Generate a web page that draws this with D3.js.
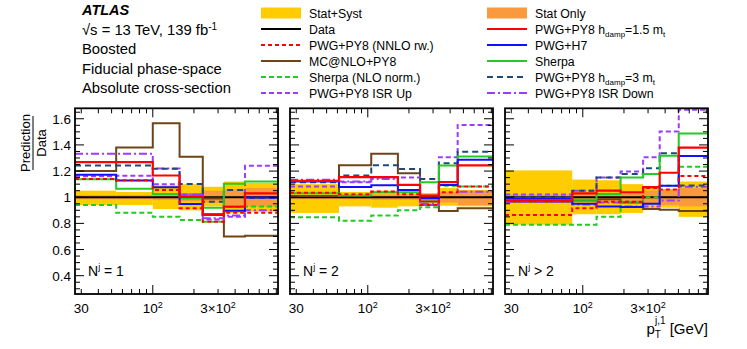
<!DOCTYPE html>
<html>
<head>
<meta charset="utf-8">
<script src="https://cdn.jsdelivr.net/npm/d3@7"></script>
<style>
body { margin: 0; background: #fff; }
text { font-family: "Liberation Sans", Arial, Helvetica, sans-serif; fill: #000; }
</style>
</head>
<body>
<div id="chart"></div>
<script>

// bin edges in GeV, one row per jet multiplicity panel
var edges = [
  [27, 54, 100, 157, 232, 331, 472, 823],
  [27, 61.6, 106, 166, 241, 331, 454, 823],
  [27, 83.7, 126, 189, 276, 365, 503, 823]
];
var panelSigns = ["= 1", "= 2", "> 2"];

// uncertainty bands (ratio to data)
var statSystLo = [[0.94, 0.94, 0.91, 0.90, 0.93, 0.88, 0.89], [0.88, 0.93, 0.92, 0.93, 0.94, 0.935, 0.93], [0.79, 0.87, 0.87, 0.88, 0.91, 0.92, 0.85]];
var statSystHi = [[1.05, 1.04, 1.09, 1.10, 1.08, 1.12, 1.11], [1.10, 1.04, 1.05, 1.03, 1.015, 1.07, 1.056], [1.205, 1.135, 1.13, 1.10, 1.075, 1.06, 1.12]];
var statLo = [[0.985, 0.985, 0.98, 0.97, 0.96, 0.94, 0.93], [0.985, 0.985, 0.98, 0.98, 0.97, 0.96, 0.94], [0.98, 0.97, 0.97, 0.96, 0.95, 0.94, 0.93]];
var statHi = [[1.015, 1.015, 1.02, 1.03, 1.05, 1.06, 1.07], [1.015, 1.015, 1.02, 1.02, 1.03, 1.04, 1.05], [1.02, 1.03, 1.03, 1.04, 1.05, 1.06, 1.07]];

// prediction / data
var dataRatio = [[1, 1, 1, 1, 1, 1, 1], [1, 1, 1, 1, 1, 1, 1], [1, 1, 1, 1, 1, 1, 1]];
var pwgNnlo = [[1.14, 1.13, 1.056, 0.916, 0.813, 0.882, 0.882], [1.035, 1.023, 1.043, 1.023, 0.941, 1.038, 1.082], [0.865, 0.915, 0.965, 0.965, 1.07, 1.06, 1.163]];
var mcatnlo = [[1.20, 1.38, 1.565, 1.31, 0.99, 0.70, 0.705], [1.01, 1.245, 1.332, 1.184, 0.967, 0.895, 0.916], [0.965, 0.975, 0.985, 0.96, 0.91, 0.905, 0.895]];
var sherpaNlo = [[0.941, 0.882, 0.851, 0.826, 0.813, 0.925, 0.93], [0.847, 0.821, 0.86, 0.9, 0.923, 1.087, 1.082], [0.79, 0.79, 0.85, 0.965, 1.0, 1.087, 1.233]];
var isrUp = [[1.16, 1.165, 1.10, 1.02, 0.83, 0.85, 1.24], [1.082, 1.115, 1.151, 1.151, 0.941, 1.306, 1.552], [1.02, 1.05, 1.15, 1.196, 1.306, 1.503, 1.669]];
var hdamp15 = [[1.268, 1.268, 1.166, 1.005, 0.864, 0.928, 1.03], [1.125, 1.153, 1.153, 1.094, 1.013, 1.115, 1.243], [0.974, 1.03, 1.05, 1.038, 1.077, 1.187, 1.38]];
var pwgH7 = [[1.171, 1.127, 1.077, 0.949, 0.87, 0.896, 0.997], [1.12, 1.079, 1.092, 1.056, 0.992, 1.094, 1.286], [0.99, 0.95, 0.93, 0.925, 0.95, 1.087, 1.316]];
var sherpa = [[1.138, 1.064, 1.025, 0.99, 0.92, 1.104, 1.12], [1.031, 1.013, 1.038, 1.038, 1.115, 1.243, 1.312], [0.99, 0.98, 1.025, 1.15, 1.177, 1.317, 1.487]];
var hdamp3 = [[1.242, 1.242, 1.217, 1.102, 0.966, 1.056, 0.995], [1.115, 1.166, 1.245, 1.215, 1.14, 1.26, 1.347], [1.0, 1.05, 1.15, 1.178, 1.222, 1.337, 1.09]];
var isrDown = [[1.332, 1.332, 1.22, 1.02, 0.84, 0.86, 0.90], [1.133, 1.12, 1.14, 1.056, 0.951, 1.094, 1.041], [0.965, 0.945, 0.96, 0.93, 0.93, 0.975, 1.08]];

var yTickLabels = ["0.4", "0.6", "0.8", "1", "1.2", "1.4", "1.6"];

var colYellow = "#ffcc00", colOrange = "#fa9a3c";

// series styles, in drawing order
var series = [
  {vals: dataRatio, color: "#000", dash: null, w: 2},
  {vals: mcatnlo, color: "#6e4516", dash: null, w: 2},
  {vals: sherpaNlo, color: "#22cc22", dash: "5,3", w: 2},
  {vals: isrUp, color: "#9b3dff", dash: "5,3", w: 2},
  {vals: isrDown, color: "#9b3dff", dash: "8,3,2,3", w: 2},
  {vals: hdamp3, color: "#1d4a78", dash: "6,4", w: 2},
  {vals: sherpa, color: "#22cc22", dash: null, w: 2},
  {vals: pwgH7, color: "#1010ff", dash: null, w: 2},
  {vals: pwgNnlo, color: "#ff0000", dash: "4,3", w: 2},
  {vals: hdamp15, color: "#ff0000", dash: null, w: 2.2}
];

var W = 747, H = 349;
var svg = d3.select("#chart").append("svg")
  .attr("width", W).attr("height", H);

var panelLeft = [75, 290, 505], panelW = 203;
var plotTop = 108.3, plotBottom = 294;

var y = d3.scaleLinear().domain([0.26, 1.68]).range([plotBottom, plotTop]);

panelLeft.forEach(function(px, p) {
  var x = d3.scaleLog().domain([27, 823]).range([px, px + panelW]);
  var e = edges[p];
  var g = svg.append("g");

  // bands
  [[statSystLo, statSystHi, colYellow], [statLo, statHi, colOrange]].forEach(function(b) {
    g.selectAll(null).data(d3.range(7)).enter().append("rect")
      .attr("x", function(i) { return x(e[i]); })
      .attr("width", function(i) { return x(e[i + 1]) - x(e[i]); })
      .attr("y", function(i) { return y(b[1][p][i]); })
      .attr("height", function(i) { return y(b[0][p][i]) - y(b[1][p][i]); })
      .attr("fill", b[2]);
  });

  // histograms
  var line = d3.line()
    .x(function(d) { return x(d[0]); })
    .y(function(d) { return y(d[1]); })
    .curve(d3.curveStepAfter);
  series.forEach(function(s) {
    var v = s.vals[p];
    var pts = e.map(function(ed, i) { return [ed, v[Math.min(i, v.length - 1)]]; });
    g.append("path")
      .attr("d", line(pts))
      .attr("fill", "none")
      .attr("stroke", s.color)
      .attr("stroke-width", s.w)
      .attr("stroke-dasharray", s.dash);
  });

  // ticks, all four sides, pointing inward
  var xt = x.ticks();
  xt.forEach(function(t) {
    var len = (t === 100) ? 9 : 5;
    g.append("line").attr("x1", x(t)).attr("x2", x(t)).attr("y1", plotBottom).attr("y2", plotBottom - len).attr("stroke", "#000");
    g.append("line").attr("x1", x(t)).attr("x2", x(t)).attr("y1", plotTop).attr("y2", plotTop + len).attr("stroke", "#000");
  });
  d3.range(0.3, 1.68, 0.05).forEach(function(t) {
    var major = Math.abs(Math.round(t * 10) - t * 10) < 1e-6 && Math.round(t * 10) % 2 === 0;
    var len = major ? 9 : 5;
    g.append("line").attr("y1", y(t)).attr("y2", y(t)).attr("x1", px).attr("x2", px + len).attr("stroke", "#000");
    g.append("line").attr("y1", y(t)).attr("y2", y(t)).attr("x1", px + panelW).attr("x2", px + panelW - len).attr("stroke", "#000");
  });

  // frame
  g.append("rect").attr("x", px).attr("y", plotTop).attr("width", panelW).attr("height", plotBottom - plotTop)
    .attr("fill", "none").attr("stroke", "#000").attr("stroke-width", 1.8);

  // x labels
  var lab = svg.append("g").style("font-size", "13.5px");
  lab.append("text").attr("x", x(30)).attr("y", 313).attr("text-anchor", "middle").text("30");
  var t2 = lab.append("text").attr("x", x(100)).attr("y", 313).attr("text-anchor", "middle");
  t2.append("tspan").text("10");
  t2.append("tspan").attr("dy", -5).style("font-size", "9px").text("2");
  var t3 = lab.append("text").attr("x", x(300)).attr("y", 313).attr("text-anchor", "middle");
  t3.append("tspan").text("3\u00d710");
  t3.append("tspan").attr("dy", -5).style("font-size", "9px").text("2");

  // N^j label
  var nl = svg.append("text").attr("x", px + 13).attr("y", 276).style("font-size", "14px");
  nl.append("tspan").text("N");
  nl.append("tspan").attr("dy", -6).style("font-size", "9px").text("j");
  nl.append("tspan").attr("dy", 6).text(" " + panelSigns[p]);
});

// y tick labels on the first panel
svg.append("g").selectAll("text").data(yTickLabels).enter().append("text")
  .attr("x", 71).attr("y", function(d) { return y(+d) + 5; })
  .attr("text-anchor", "end").style("font-size", "13.5px")
  .text(function(d) { return d; });

// y title as a fraction
var yt = svg.append("g").attr("transform", "translate(33,143) rotate(-90)");
yt.append("text").attr("x", 0).attr("y", -3).attr("text-anchor", "middle").style("font-size", "13px").text("Prediction");
yt.append("line").attr("x1", -27).attr("x2", 27).attr("y1", 0).attr("y2", 0).attr("stroke", "#000").attr("stroke-width", 1);
yt.append("text").attr("x", 0).attr("y", 13).attr("text-anchor", "middle").style("font-size", "13px").text("Data");

// x title
var xtit = svg.append("text").attr("x", 708).attr("y", 334).attr("text-anchor", "end").style("font-size", "15px");
xtit.append("tspan").text("p");
xtit.append("tspan").attr("dy", 4).style("font-size", "10px").text("T");
xtit.append("tspan").attr("dx", -6).attr("dy", -14).style("font-size", "10px").text("j,1");
xtit.append("tspan").attr("dy", 10).text(" [GeV]");

// ATLAS block
svg.append("text").attr("x", 82).attr("y", 15).style("font-size", "14.5px")
  .style("font-weight", "bold").style("font-style", "italic").text("ATLAS");
var info = svg.append("g").style("font-size", "14.8px");
var s1 = info.append("text").attr("x", 82).attr("y", 35);
s1.append("tspan").text("\u221as = 13 TeV, 139 fb");
s1.append("tspan").attr("dy", -5).style("font-size", "10px").text("-1");
info.append("text").attr("x", 82).attr("y", 54).text("Boosted");
info.append("text").attr("x", 82).attr("y", 73.5).text("Fiducial phase-space");
info.append("text").attr("x", 82).attr("y", 93).text("Absolute cross-section");

// legend
var legendCols = [
  {x: 261, items: [
    {label: ["Stat+Syst"], box: colYellow},
    {label: ["Data"], s: series[0]},
    {label: ["PWG+PY8 (NNLO rw.)"], s: series[8]},
    {label: ["MC@NLO+PY8"], s: series[1]},
    {label: ["Sherpa (NLO norm.)"], s: series[2]},
    {label: ["PWG+PY8 ISR Up"], s: series[3]}
  ]},
  {x: 487, items: [
    {label: ["Stat Only"], box: colOrange},
    {label: ["PWG+PY8 h", "damp", "=1.5 m", "t"], s: series[9]},
    {label: ["PWG+H7"], s: series[7]},
    {label: ["Sherpa"], s: series[6]},
    {label: ["PWG+PY8 h", "damp", "=3 m", "t"], s: series[5]},
    {label: ["PWG+PY8 ISR Down"], s: series[4]}
  ]}
];
legendCols.forEach(function(c) {
  c.items.forEach(function(it, i) {
    var ly = 13 + 16 * i;
    if (it.box) {
      svg.append("rect").attr("x", c.x).attr("y", ly - 5.5).attr("width", 40).attr("height", 11).attr("fill", it.box);
    } else {
      svg.append("line").attr("x1", c.x).attr("x2", c.x + 40).attr("y1", ly).attr("y2", ly)
        .attr("stroke", it.s.color).attr("stroke-width", 2).attr("stroke-dasharray", it.s.dash);
    }
    var t = svg.append("text").attr("x", c.x + 48).attr("y", ly + 5).style("font-size", "12.3px");
    it.label.forEach(function(part, k) {
      if (k % 2 === 0) t.append("tspan").attr("dy", k === 0 ? 0 : -3).style("font-size", "12.3px").text(part);
      else t.append("tspan").attr("dy", 3).style("font-size", "8px").text(part);
    });
  });
});

</script>
</body>
</html>
